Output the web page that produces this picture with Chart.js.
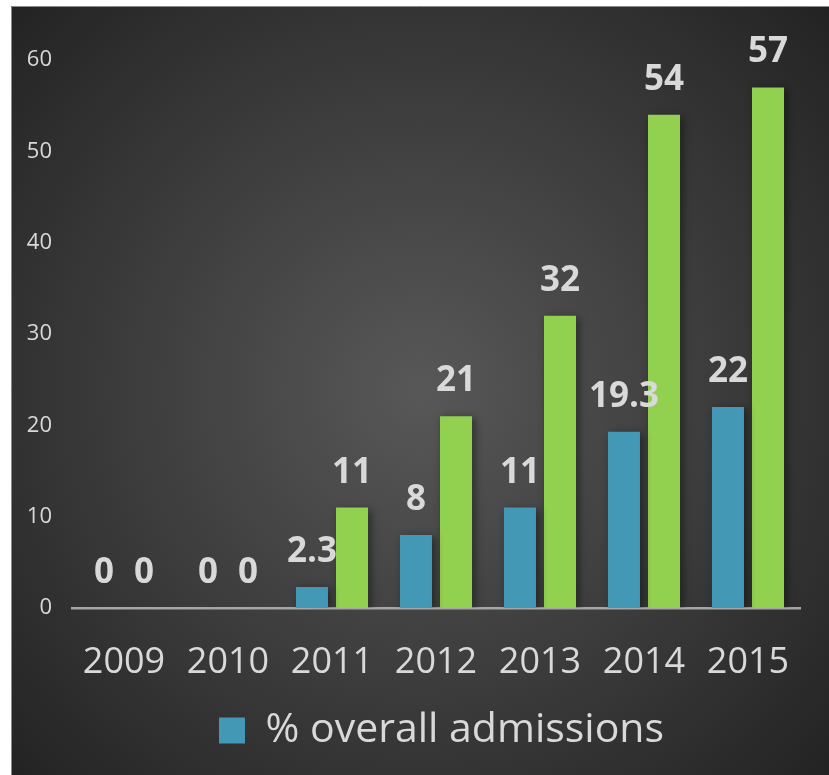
<!DOCTYPE html>
<html>
<head>
<meta charset="utf-8">
<script src="https://cdn.jsdelivr.net/npm/chart.js@4.4.1/dist/chart.umd.min.js"></script>
<style>
  html, body { margin: 0; padding: 0; background: #fff; }
  #wrap { position: absolute; left: 0; top: 0; width: 829px; height: 775px; }
</style>
</head>
<body>
<div id="wrap"><canvas id="chart"></canvas></div>
<script>
// dados
const categories = ['2009', '2010', '2011', '2012', '2013', '2014', '2015'];
const overallAdmissions = [0, 0, 2.3, 8, 11, 19.3, 22];
const secondSeries = [0, 0, 11, 21, 32, 54, 57];
const yTicks = [0, 10, 20, 30, 40, 50, 60];

const labelColor = '#d9d9d9';

// fundo escuro com gradiente radial
const backgroundPlugin = {
    id: 'fundo',
    beforeDraw(chart) {
        const ctx = chart.ctx;
        const w = chart.width, h = chart.height;
        ctx.save();
        ctx.fillStyle = '#ffffff';
        ctx.fillRect(0, 0, w, h);
        const g = ctx.createRadialGradient(420, 390, 10, 420, 390, 560);
        g.addColorStop(0, '#575757');
        g.addColorStop(1, '#232323');
        ctx.fillStyle = g;
        ctx.fillRect(11, 6, w - 11, h - 6);
        ctx.strokeStyle = '#8a8a8a';
        ctx.lineWidth = 1;
        ctx.beginPath();
        ctx.moveTo(11.5, h);
        ctx.lineTo(11.5, 6.5);
        ctx.lineTo(w, 6.5);
        ctx.stroke();
        ctx.restore();
    }
};

// legenda um pouco deslocada para a direita, como no original
const legendShift = {
    id: 'legendaDesloc',
    afterLayout(chart) {
        if (chart.legend) {
            chart.legend.left += 36;
            chart.legend.right += 36;
        }
    }
};

// sombra leve nas barras
const shadowPlugin = {
    id: 'sombra',
    beforeDatasetsDraw(chart) {
        const ctx = chart.ctx;
        ctx.save();
        ctx.shadowColor = 'rgba(0,0,0,0.45)';
        ctx.shadowBlur = 8;
        ctx.shadowOffsetX = 3;
        ctx.shadowOffsetY = 2;
    },
    afterDatasetsDraw(chart) {
        chart.ctx.restore();
    }
};

// rotulos de valor acima das barras
const valueLabels = {
    id: 'rotulos',
    afterDraw(chart) {
        const ctx = chart.ctx;
        ctx.save();
        ctx.font = 'bold 35px "Open Sans"';
        ctx.fillStyle = labelColor;
        ctx.textAlign = 'center';
        ctx.textBaseline = 'alphabetic';
        chart.data.datasets.forEach((ds, i) => {
            chart.getDatasetMeta(i).data.forEach((bar, j) => {
                ctx.fillText(String(ds.data[j]), bar.x, bar.y - 25);
            });
        });
        ctx.restore();
    }
};

new Chart(document.getElementById('chart'), {
    type: 'bar',
    data: {
        labels: categories,
        datasets: [{
            label: '% overall admissions',
            data: overallAdmissions,
            backgroundColor: '#4298b5',
            categoryPercentage: 0.77,
            barPercentage: 0.8
        }, {
            label: 'Series 2',
            data: secondSeries,
            backgroundColor: '#92d050',
            categoryPercentage: 0.77,
            barPercentage: 0.8
        }]
    },
    options: {
        responsive: true,
        maintainAspectRatio: false,
        animation: false,
        layout: {
            padding: { left: 11, right: 29, top: 60, bottom: 14 }
        },
        plugins: {
            legend: {
                position: 'bottom',
                labels: {
                    color: labelColor,
                    font: { family: 'Open Sans', size: 41 },
                    boxWidth: 26,
                    boxHeight: 26,
                    padding: 10,
                    filter: (item) => item.datasetIndex === 0
                }
            },
            tooltip: { enabled: false }
        },
        scales: {
            x: {
                afterFit(scale) {
                    scale.height = 92;
                },
                grid: { display: false, drawTicks: false },
                border: { display: true, color: '#a6a6a6', width: 2.5 },
                ticks: {
                    color: labelColor,
                    font: { family: 'Open Sans', size: 36 },
                    padding: 33
                }
            },
            y: {
                min: 0,
                max: 60,
                afterBuildTicks(scale) {
                    scale.ticks = yTicks.map(v => ({ value: v }));
                },
                afterFit(scale) {
                    scale.width = 61;
                },
                grid: { display: false, drawTicks: false },
                border: { display: false },
                ticks: {
                    color: labelColor,
                    font: { family: 'Open Sans', size: 22 },
                    padding: 20
                }
            }
        }
    },
    plugins: [backgroundPlugin, legendShift, shadowPlugin, valueLabels]
});
</script>
</body>
</html>
